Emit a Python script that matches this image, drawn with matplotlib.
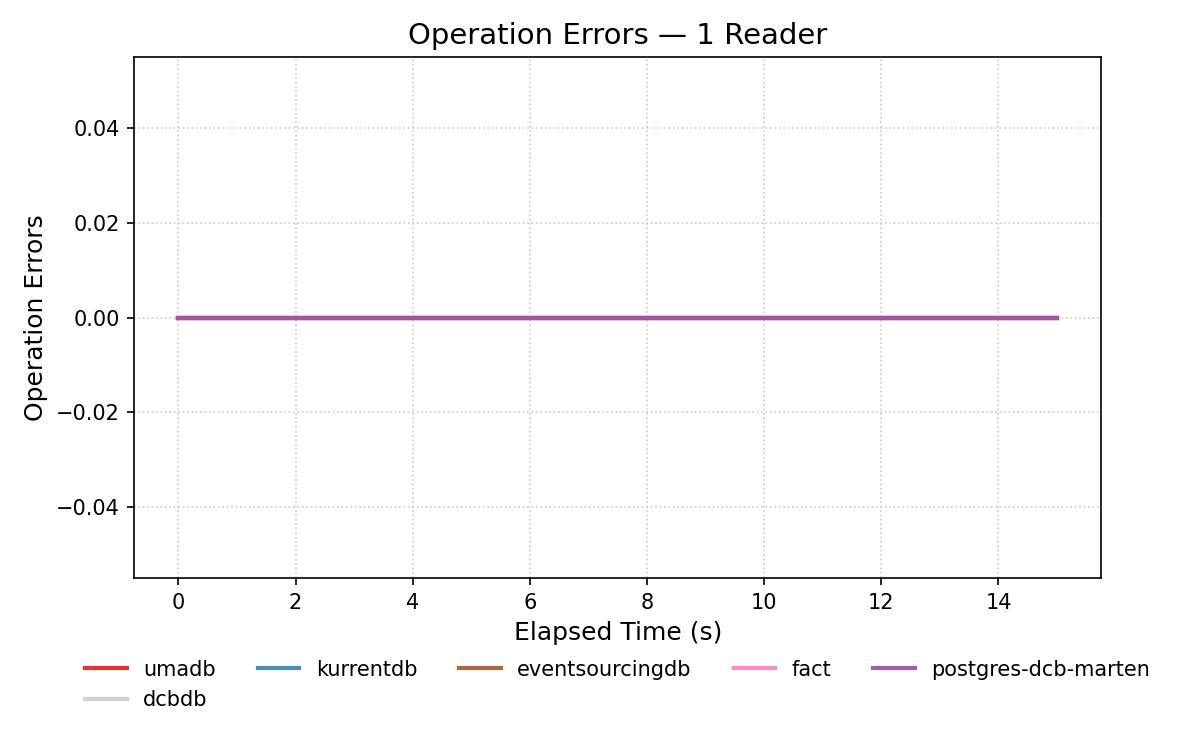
import matplotlib
matplotlib.use("Agg")
import matplotlib.pyplot as plt

# elapsed seconds and error counts per store (all zero in this run)
elapsed = [0, 1, 2, 3, 4, 5, 6, 7, 8, 9, 10, 11, 12, 13, 14, 15]
umadb = [0, 0, 0, 0, 0, 0, 0, 0, 0, 0, 0, 0, 0, 0, 0, 0]
kurrentdb = [0, 0, 0, 0, 0, 0, 0, 0, 0, 0, 0, 0, 0, 0, 0, 0]
eventsourcingdb = [0, 0, 0, 0, 0, 0, 0, 0, 0, 0, 0, 0, 0, 0, 0, 0]
fact = [0, 0, 0, 0, 0, 0, 0, 0, 0, 0, 0, 0, 0, 0, 0, 0]
postgres_dcb_marten = [0, 0, 0, 0, 0, 0, 0, 0, 0, 0, 0, 0, 0, 0, 0, 0]
dcbdb = []  # no samples, only in legend

series = [
    ("umadb", umadb, "#e41a1c"),
    ("kurrentdb", kurrentdb, "#377eb8"),
    ("eventsourcingdb", eventsourcingdb, "#a65628"),
    ("fact", fact, "#f781bf"),
    ("postgres-dcb-marten", postgres_dcb_marten, "#984ea3"),
    ("dcbdb", dcbdb, "#cccccc"),
]

fig, ax = plt.subplots(figsize=(8, 5), dpi=150)

handles = {}
for name, vals, color in series:
    line, = ax.plot(elapsed[:len(vals)], vals, label=name, color=color, linewidth=2, alpha=0.9)
    handles[name] = line

ax.set_title("Operation Errors — 1 Reader", fontsize=14)
ax.set_xlabel("Elapsed Time (s)", fontsize=12)
ax.set_ylabel("Operation Errors", fontsize=12)
ax.grid(True, linestyle=":", color="#cccccc", linewidth=0.8)

# legend fills column-wise, so reorder to read row-wise
order = ["umadb", "dcbdb", "kurrentdb", "eventsourcingdb", "fact", "postgres-dcb-marten"]
ax.legend([handles[n] for n in order], order,
          loc="upper center", bbox_to_anchor=(0.5, -0.12), ncol=5,
          frameon=False, fontsize=10)

fig.subplots_adjust(left=0.112, right=0.9175, top=0.924, bottom=0.229)
fig.savefig("out.png", dpi=150)
